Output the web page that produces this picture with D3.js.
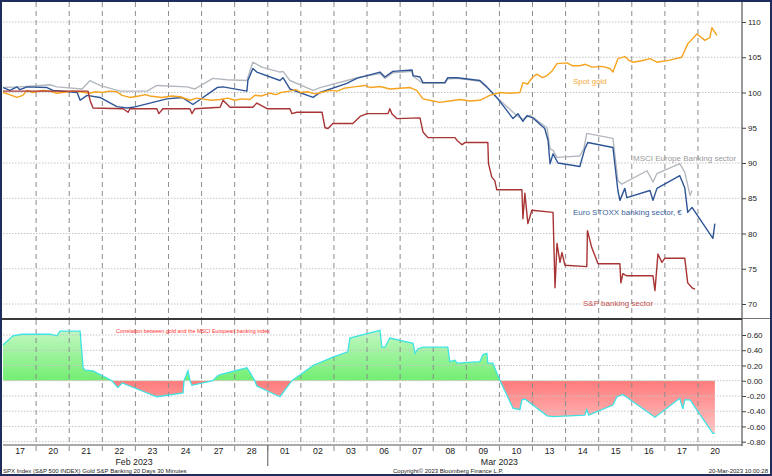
<!DOCTYPE html>
<html><head><meta charset="utf-8">
<script src="https://cdn.jsdelivr.net/npm/d3@7"></script>
<style>html,body{margin:0;padding:0;background:#fff}svg{display:block}</style>
</head><body>
<svg id="chart" width="772" height="476"></svg>
<script>
// ---- tick labels / categories ----
const dayLabels = ["17","20","21","22","23","24","27","28","01","02","03","06","07","08","09","10","13","14","15","16","17","20"];
const monthLabels = ["Feb 2023","Mar 2023"];
const monthAt = [3.96, 15.0];      // trading-day position of month labels
const monthBreak = 8;              // boundary between Feb and Mar
const priceTicks = [70,75,80,85,90,95,100,105,110];
const corrTicks = [0.6,0.4,0.2,0,-0.2,-0.4,-0.6,-0.8];
const corrTickLabels = ["0.60","0.40","0.20","0.00","-0.20","-0.40","-0.60","-0.80"];

// ---- series: [trading-day position, value] (rebased to 100) ----
const gold = [[0,100.0],[0.2,99.7],[0.42,99.3],[0.6,99.6],[0.73,100.3],[0.9,100.0],[1.0,100.1],[1.2,100.3],[1.42,100.2],[1.6,99.9],[1.8,100.0],[2.1,100.2],[2.33,100.1],[2.6,99.9],[2.8,100.1],[3.0,100.0],[3.2,100.2],[3.44,100.1],[3.6,99.6],[3.84,99.3],[4.1,99.5],[4.3,99.7],[4.44,99.5],[4.8,99.3],[5.1,99.5],[5.35,99.4],[5.65,98.9],[5.85,99.2],[6.0,99.1],[6.3,98.9],[6.56,99.0],[6.8,99.2],[7.0,98.9],[7.2,99.1],[7.46,99.0],[7.61,99.6],[7.8,99.5],[8.07,99.9],[8.25,99.7],[8.4,100.0],[8.67,100.2],[8.85,100.4],[9.0,100.0],[9.2,100.1],[9.43,99.8],[9.6,100.0],[9.88,100.3],[10.1,100.2],[10.3,100.6],[10.6,100.8],[10.94,101.0],[11.1,100.7],[11.39,100.85],[11.69,100.5],[12.0,100.6],[12.3,100.7],[12.5,100.3],[12.69,99.1],[13.0,98.8],[13.2,98.6],[13.5,98.8],[13.81,99.0],[14.1,98.8],[14.41,98.9],[14.71,99.6],[15.02,100.0],[15.3,99.9],[15.62,100.0],[15.71,101.4],[15.85,101.2],[16.01,102.2],[16.13,102.6],[16.3,102.1],[16.44,102.4],[16.6,103.1],[16.74,104.1],[17.04,104.2],[17.2,103.8],[17.43,103.8],[17.6,104.0],[17.8,103.6],[18.1,103.7],[18.34,103.4],[18.43,102.9],[18.58,104.8],[18.79,105.1],[18.9,104.6],[19.03,104.3],[19.3,104.5],[19.55,104.8],[19.76,104.3],[20.15,104.6],[20.51,105.0],[20.69,106.9],[20.97,108.3],[21.21,107.4],[21.36,107.8],[21.42,109.2],[21.57,108.1]];

const msciEurope = [[0,100.7],[0.51,100.8],[1.42,101.1],[1.63,100.8],[2.39,100.5],[2.63,101.7],[2.93,101.0],[3.53,100.2],[4.35,100.2],[4.65,101.0],[5.56,100.8],[5.80,100.5],[6.34,102.0],[6.77,101.8],[7.37,101.7],[7.55,104.3],[7.82,103.6],[8.37,102.9],[8.46,103.0],[8.67,101.7],[9.37,100.3],[9.58,100.7],[10.39,101.7],[10.79,102.2],[11.39,102.7],[11.54,102.0],[11.78,102.8],[12.36,103.0],[12.39,102.3],[12.69,101.3],[13.35,101.3],[13.44,101.9],[13.72,102.0],[14.41,101.6],[14.62,100.7],[14.92,99.3],[15.53,96.7],[15.71,96.2],[15.92,96.8],[16.44,95.0],[16.53,92.0],[16.62,91.8],[16.74,90.8],[17.43,91.0],[17.55,92.0],[17.64,94.2],[18.43,93.5],[18.58,87.5],[18.70,87.0],[19.46,88.9],[19.64,87.3],[19.76,88.5],[20.45,89.9],[20.60,88.7],[20.76,85.4],[20.82,86.1]];

const euroStoxx = [[0,100.7],[0.21,100.3],[0.42,100.8],[0.51,100.4],[0.73,100.8],[1.33,100.7],[1.51,100.3],[2.24,100.0],[2.33,98.9],[2.54,99.6],[2.93,99.3],[3.44,98.0],[3.75,97.8],[3.93,97.9],[4.95,99.1],[5.41,99.3],[5.74,98.3],[6.47,100.7],[6.65,100.8],[7.37,100.2],[7.40,101.7],[7.55,103.4],[7.67,102.9],[8.37,101.7],[8.46,102.1],[8.67,100.5],[9.37,99.3],[9.58,100.0],[10.39,101.3],[10.69,102.0],[11.39,102.9],[11.54,102.2],[11.78,103.0],[12.36,103.2],[12.39,102.4],[12.60,102.2],[12.69,101.4],[13.35,101.4],[13.44,102.1],[13.72,102.1],[14.41,101.7],[14.62,100.8],[14.92,99.3],[15.41,96.3],[15.56,97.0],[15.71,95.9],[15.83,96.7],[16.01,96.4],[16.37,94.9],[16.47,93.2],[16.53,89.9],[16.62,91.3],[16.77,90.0],[17.43,89.5],[17.58,92.0],[17.67,92.9],[18.43,92.2],[18.58,86.1],[18.64,84.7],[18.79,86.4],[18.85,85.1],[19.55,86.1],[19.64,84.7],[19.76,86.4],[20.45,88.2],[20.60,86.5],[20.69,83.0],[20.82,83.7],[21.45,79.3],[21.51,81.4]];

const spBanks = [[0,100.2],[2.57,100.2],[2.63,98.9],[2.72,97.8],[3.63,97.7],[3.78,97.2],[3.84,97.7],[4.65,97.7],[4.71,97.0],[4.83,97.7],[5.65,97.7],[5.71,97.0],[5.80,97.7],[6.56,97.9],[6.65,98.9],[6.86,97.9],[7.55,97.9],[7.67,98.5],[7.98,97.7],[8.67,97.7],[8.73,97.0],[8.88,97.2],[9.64,97.2],[9.73,95.0],[9.82,94.9],[9.97,95.6],[10.57,95.6],[10.79,96.6],[11.00,97.0],[11.63,97.0],[11.69,97.7],[11.75,97.0],[11.90,96.3],[12.60,96.4],[12.69,94.4],[12.84,93.6],[13.66,93.6],[13.72,93.2],[13.87,92.6],[13.96,92.9],[14.65,92.9],[14.67,89.9],[14.77,88.0],[14.86,87.5],[14.92,86.2],[15.68,86.2],[15.71,82.1],[15.77,85.7],[15.86,81.4],[15.98,83.3],[16.62,83.0],[16.68,72.3],[16.74,78.6],[16.83,75.9],[16.89,77.3],[16.98,75.5],[17.64,75.3],[17.66,80.4],[17.79,78.0],[17.89,76.8],[17.98,75.7],[18.64,75.7],[18.67,73.0],[18.73,74.3],[18.85,74.0],[19.64,74.0],[19.70,71.9],[19.79,77.1],[19.91,75.9],[20.00,76.5],[20.60,76.5],[20.69,73.0],[20.82,72.3],[20.91,72.1]];

const correlation = [[0,0.47],[0.30,0.59],[0.57,0.61],[1.42,0.61],[1.63,0.59],[1.72,0.65],[2.33,0.65],[2.36,0.49],[2.42,0.17],[2.48,0.14],[2.72,0.13],[3.29,0.0],[3.47,-0.09],[3.60,-0.03],[4.65,-0.21],[5.44,-0.16],[5.47,0.0],[5.59,0.13],[5.65,0.0],[5.71,-0.06],[6.34,0.0],[6.47,0.06],[6.56,0.08],[7.37,0.17],[7.46,0.11],[7.61,0.0],[7.67,-0.07],[8.37,-0.21],[8.73,0.0],[9.37,0.2],[9.97,0.31],[10.42,0.38],[10.48,0.56],[11.39,0.66],[11.45,0.44],[11.54,0.44],[11.69,0.56],[12.39,0.49],[12.45,0.36],[12.54,0.42],[12.69,0.44],[13.44,0.44],[13.50,0.25],[13.66,0.27],[13.72,0.23],[14.41,0.25],[14.50,0.34],[14.62,0.36],[14.65,0.23],[14.80,0.23],[15.02,0.0],[15.41,-0.36],[15.62,-0.38],[15.68,-0.25],[15.77,-0.24],[16.44,-0.46],[16.62,-0.47],[17.58,-0.45],[17.64,-0.38],[17.70,-0.45],[18.43,-0.32],[18.55,-0.21],[18.73,-0.18],[19.70,-0.48],[20.45,-0.23],[20.54,-0.37],[20.60,-0.25],[20.76,-0.25],[21.45,-0.69],[21.51,-0.69]];

const seriesNames = ["Spot gold","MSCI Europe Banking sector","Euro STOXX banking sector, €","S&P banking sector"];

// ---- layout ----
const svg = d3.select("#chart");
const L = 3, R = 742, upTop = 2, upBot = 318, loTop = 320, loBot = 445;
const x = d3.scaleLinear().domain([0, 22.33]).range([L, R]);
const yP = d3.scaleLinear().domain([70, 110]).range([304, 22]);
const yC = d3.scaleLinear().domain([-0.8, 0.6]).range([441.7, 335]);
const FONT = "'Liberation Sans', Arial, sans-serif";

svg.append("rect").attr("width",772).attr("height",476).attr("fill","#fff");

const defs = svg.append("defs");
defs.append("clipPath").attr("id","clipUp").append("rect").attr("x",L).attr("y",upTop).attr("width",R-L).attr("height",upBot-upTop);
defs.append("clipPath").attr("id","clipPos").append("rect").attr("x",L).attr("y",loTop).attr("width",R-L).attr("height",yC(0)-loTop);
defs.append("clipPath").attr("id","clipNeg").append("rect").attr("x",L).attr("y",yC(0)).attr("width",R-L).attr("height",loBot-yC(0));
const gG = defs.append("linearGradient").attr("id","gGreen").attr("gradientUnits","userSpaceOnUse").attr("x1",0).attr("x2",0).attr("y1",yC(0.66)).attr("y2",yC(0));
gG.append("stop").attr("offset","0").attr("stop-color","#c2f7c2");
gG.append("stop").attr("offset","1").attr("stop-color","#72ee72");
const gR = defs.append("linearGradient").attr("id","gRed").attr("gradientUnits","userSpaceOnUse").attr("x1",0).attr("x2",0).attr("y1",yC(0)).attr("y2",yC(-0.7));
gR.append("stop").attr("offset","0").attr("stop-color","#ff7b7b");
gR.append("stop").attr("offset","1").attr("stop-color","#ffc6c6");

// ---- correlation area ----
const area = d3.area().x(d=>x(d[0])).y0(yC(0)).y1(d=>yC(d[1]));
svg.append("path").datum(correlation).attr("d",area).attr("fill","url(#gGreen)").attr("clip-path","url(#clipPos)");
svg.append("path").datum(correlation).attr("d",area).attr("fill","url(#gRed)").attr("clip-path","url(#clipNeg)");

// ---- gridlines ----
const grid = svg.append("g");
grid.selectAll(".hp").data(priceTicks).join("line")
  .attr("x1",L).attr("x2",R).attr("y1",d=>yP(d)).attr("y2",d=>yP(d))
  .attr("stroke","#c4c4c4").attr("stroke-width",1).attr("stroke-dasharray","1.5,1.5");
grid.selectAll(".hc").data(corrTicks).join("line")
  .attr("x1",L).attr("x2",R).attr("y1",d=>yC(d)).attr("y2",d=>yC(d))
  .attr("stroke","#c4c4c4").attr("stroke-width",1).attr("stroke-dasharray","1.5,1.5");
const vDays = d3.range(1, dayLabels.length);
grid.selectAll(".vu").data(vDays).join("line")
  .attr("x1",d=>x(d)).attr("x2",d=>x(d)).attr("y1",upTop).attr("y2",upBot)
  .attr("stroke","#8c8c8c").attr("stroke-width",1).attr("stroke-dasharray","5,4");
grid.selectAll(".vl").data(vDays).join("line")
  .attr("x1",d=>x(d)).attr("x2",d=>x(d)).attr("y1",loTop).attr("y2",455)
  .attr("stroke","#8c8c8c").attr("stroke-width",1).attr("stroke-dasharray","5,4");

// correlation outline
svg.append("path").datum(correlation)
  .attr("d", d3.line().x(d=>x(d[0])).y(d=>yC(d[1])))
  .attr("fill","none").attr("stroke","#3fe3e3").attr("stroke-width",1.3);

// ---- price lines ----
const line = d3.line().x(d=>x(d[0])).y(d=>yP(d[1]));
const lines = svg.append("g").attr("clip-path","url(#clipUp)");
[[msciEurope,"#b3b8bf"],[euroStoxx,"#2f5596"],[gold,"#f6a31e"],[spBanks,"#a83434"]].forEach(([data,col])=>{
  lines.append("path").datum(data).attr("d",line).attr("fill","none")
    .attr("stroke",col).attr("stroke-width",1.4).attr("stroke-linejoin","round");
});

// series labels
const labelStyle = [[573,81,"#f5a93a"],[633,158,"#9a9a9a"],[573,212,"#3b5f9c"],[583,303,"#c0504d"]];
seriesNames.forEach((n,i)=>{
  svg.append("text").attr("x",labelStyle[i][0]).attr("y",labelStyle[i][1]).attr("dy","0.35em")
    .attr("font-family",FONT).attr("font-size",8).attr("fill",labelStyle[i][2]).text(n);
});

// correlation title
svg.append("text").attr("x",116).attr("y",331).attr("dy","0.35em")
  .attr("font-family",FONT).attr("font-size",5.4).attr("fill","#ff3030")
  .text("Correlation between gold and the MSCI European banking index");

// ---- axes ----
const axP = svg.append("g").attr("transform",`translate(${R},0)`)
  .call(d3.axisRight(yP).tickValues(priceTicks).tickSize(4).tickPadding(2).tickFormat(d3.format("d")));
const axC = svg.append("g").attr("transform",`translate(${R},0)`)
  .call(d3.axisRight(yC).tickValues(corrTicks).tickSize(4).tickPadding(1).tickFormat((d,i)=>corrTickLabels[i]));
[axP,axC].forEach(a=>{
  a.select(".domain").remove();
  a.selectAll("line").attr("stroke","#444");
  a.selectAll("text").attr("font-family",FONT).attr("font-size",8).attr("fill","#222");
});
// right axis vertical line
svg.append("line").attr("x1",R).attr("x2",R).attr("y1",upTop).attr("y2",loBot+1).attr("stroke","#555").attr("stroke-width",1.2);

// panel separator
svg.append("line").attr("x1",0).attr("x2",R).attr("y1",319).attr("y2",319).attr("stroke","#3a3a3a").attr("stroke-width",2);
svg.append("line").attr("x1",R).attr("x2",772).attr("y1",318.5).attr("y2",318.5).attr("stroke","#777").attr("stroke-width",1);

// bottom axis
const axX = svg.append("g").attr("transform",`translate(0,${loBot})`)
  .call(d3.axisBottom(x).tickValues(dayLabels.map((d,i)=>i+0.5)).tickSize(0).tickPadding(2.5).tickFormat((d,i)=>dayLabels[i]));
axX.select(".domain").remove();
axX.selectAll("text").attr("font-family",FONT).attr("font-size",8.8).attr("fill","#222");
svg.append("line").attr("x1",L).attr("x2",R).attr("y1",loBot).attr("y2",loBot).attr("stroke","#555").attr("stroke-width",1.2);
svg.append("line").attr("x1",x(monthBreak)).attr("x2",x(monthBreak)).attr("y1",loBot).attr("y2",466).attr("stroke","#777").attr("stroke-width",1.2);
monthLabels.forEach((m,i)=>{
  svg.append("text").attr("x",x(monthAt[i])).attr("y",465).attr("text-anchor","middle")
    .attr("font-family",FONT).attr("font-size",8.8).attr("fill","#222").text(m);
});

// footer texts
svg.append("text").attr("x",3).attr("y",472.5).attr("font-family",FONT).attr("font-size",6).attr("fill","#222")
  .text("SPX Index (S&P 500 INDEX) Gold  S&P Banking 20 Days 30 Minutes");
svg.append("text").attr("x",393).attr("y",472.5).attr("font-family",FONT).attr("font-size",6).attr("fill","#222")
  .text("Copyright\u00A9 2023 Bloomberg Finance L.P.");
svg.append("text").attr("x",768).attr("y",472.5).attr("text-anchor","end").attr("font-family",FONT).attr("font-size",6).attr("fill","#222")
  .text("20-Mar-2023 10:00:28");

// outer frame
svg.append("rect").attr("x",1).attr("y",1).attr("width",770).attr("height",474)
  .attr("fill","none").attr("stroke","#1f2d5c").attr("stroke-width",2);
</script>
</body></html>
